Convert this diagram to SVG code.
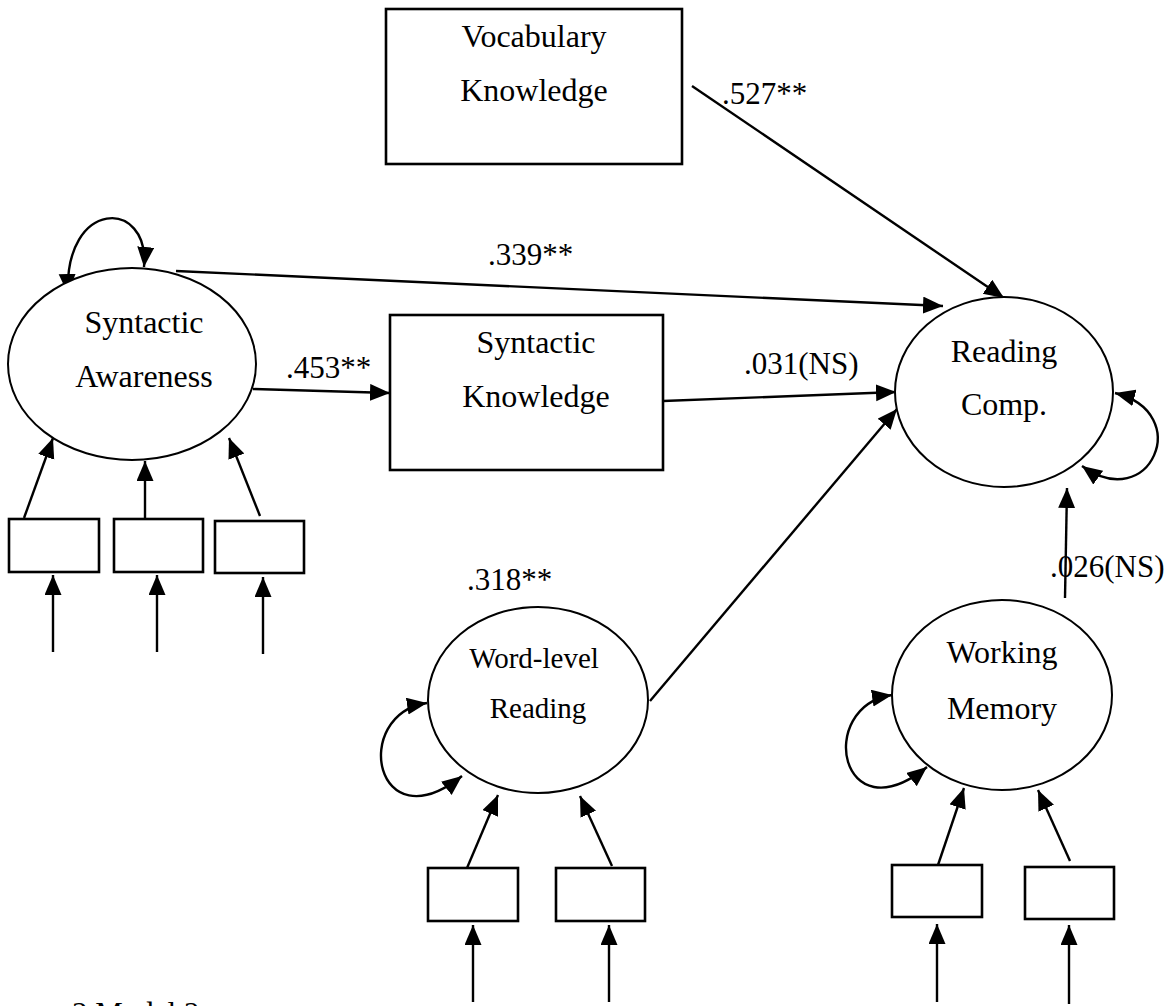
<svg xmlns="http://www.w3.org/2000/svg" width="1175" height="1006" viewBox="0 0 1175 1006">
  <style>
    .box { fill: #fff; stroke: #000; stroke-width: 2.6; }
    .latent { fill: #fff; stroke: #000; stroke-width: 2; }
    .lbl { font-family: "Liberation Serif", "Times New Roman", serif; font-size: 32px; fill: #000; text-anchor: middle; }
    .coef { font-family: "Liberation Serif", "Times New Roman", serif; font-size: 31px; fill: #000; }
    .edge { fill: none; stroke: #000; stroke-width: 2.4; marker-end: url(#ah); }
    .loop { fill: none; stroke: #000; stroke-width: 2.4; marker-start: url(#ah); marker-end: url(#ah); }
  </style>
  <defs>
    <marker id="ah" markerUnits="userSpaceOnUse" markerWidth="22" markerHeight="18" refX="20" refY="8.5" orient="auto-start-reverse">
      <path d="M0,0 L20,8.5 L0,17 z" fill="#000"/>
    </marker>
  </defs>
  <rect width="1175" height="1006" fill="#fff"/>

  <!-- structural paths, loadings and residual arrows -->
  <g id="connectors">
    <line class="edge" x1="692" y1="86" x2="1004" y2="298"/>
    <line class="edge" x1="176" y1="271" x2="943" y2="306"/>
    <line class="edge" x1="253" y1="389" x2="390" y2="393"/>
    <line class="edge" x1="663" y1="401" x2="896" y2="392"/>
    <line class="edge" x1="650" y1="701" x2="897" y2="409"/>
    <line class="edge" x1="1065" y1="598" x2="1067" y2="488"/>

    <!-- variances -->
    <path class="loop" d="M68,294 C64,198 150,198 144,267"/>
    <path class="loop" d="M1115,393 C1195,413 1150,515 1082,466"/>
    <path class="loop" d="M427,703 C350,715 375,845 462,776"/>
    <path class="loop" d="M892,695 C815,707 840,837 927,767"/>

    <!-- Syntactic Awareness indicators -->
    <line class="edge" x1="24" y1="518" x2="53" y2="438"/>
    <line class="edge" x1="145" y1="518" x2="145" y2="461"/>
    <line class="edge" x1="260" y1="516" x2="229" y2="438"/>
    <line class="edge" x1="53" y1="652" x2="53" y2="575"/>
    <line class="edge" x1="157" y1="652" x2="157" y2="575"/>
    <line class="edge" x1="263" y1="654" x2="263" y2="577"/>

    <!-- Word-level Reading indicators -->
    <line class="edge" x1="467" y1="868" x2="498" y2="795"/>
    <line class="edge" x1="612" y1="866" x2="580" y2="796"/>
    <line class="edge" x1="473" y1="1002" x2="473" y2="925"/>
    <line class="edge" x1="609" y1="1002" x2="609" y2="925"/>

    <!-- Working Memory indicators -->
    <line class="edge" x1="938" y1="865" x2="964" y2="788"/>
    <line class="edge" x1="1070" y1="861" x2="1038" y2="790"/>
    <line class="edge" x1="937" y1="1002" x2="937" y2="924"/>
    <line class="edge" x1="1069" y1="1004" x2="1069" y2="925"/>
  </g>

  <g id="vocabulary-knowledge">
    <rect class="box" x="386" y="9" width="296" height="155"/>
    <text class="lbl" x="534" y="47">Vocabulary</text>
    <text class="lbl" x="534" y="101">Knowledge</text>
  </g>

  <g id="syntactic-awareness">
    <ellipse class="latent" cx="132" cy="364" rx="124" ry="96"/>
    <text class="lbl" x="144" y="333">Syntactic</text>
    <text class="lbl" x="144" y="387">Awareness</text>
  </g>

  <g id="syntactic-knowledge">
    <rect class="box" x="390" y="315" width="273" height="155"/>
    <text class="lbl" x="536" y="353">Syntactic</text>
    <text class="lbl" x="536" y="407">Knowledge</text>
  </g>

  <g id="reading-comp">
    <ellipse class="latent" cx="1004" cy="392" rx="109" ry="95"/>
    <text class="lbl" x="1004" y="362">Reading</text>
    <text class="lbl" x="1004" y="415">Comp.</text>
  </g>

  <g id="word-level-reading">
    <ellipse class="latent" cx="538" cy="700" rx="110" ry="93"/>
    <text class="lbl" x="534" y="668" style="font-size:29px">Word-level</text>
    <text class="lbl" x="538" y="718" style="font-size:29px">Reading</text>
  </g>

  <g id="working-memory">
    <ellipse class="latent" cx="1002" cy="695" rx="110" ry="95"/>
    <text class="lbl" x="1002" y="663">Working</text>
    <text class="lbl" x="1002" y="719">Memory</text>
  </g>

  <g id="sa-indicators">
    <rect class="box" x="9" y="519" width="90" height="53"/>
    <rect class="box" x="114" y="519" width="89" height="53"/>
    <rect class="box" x="215" y="521" width="89" height="52"/>
  </g>
  <g id="wr-indicators">
    <rect class="box" x="428" y="868" width="90" height="53"/>
    <rect class="box" x="556" y="868" width="89" height="53"/>
  </g>
  <g id="wm-indicators">
    <rect class="box" x="892" y="865" width="90" height="52"/>
    <rect class="box" x="1025" y="867" width="89" height="52"/>
  </g>

  <g id="coefficients">
    <text class="coef" x="722" y="104">.527**</text>
    <text class="coef" x="488" y="265">.339**</text>
    <text class="coef" x="286" y="378">.453**</text>
    <text class="coef" x="744" y="374">.031(NS)</text>
    <text class="coef" x="467" y="590">.318**</text>
    <text class="coef" x="1050" y="577">.026(NS)</text>
  </g>

  <text class="coef" x="72" y="1024">3 Model 2</text>
</svg>
